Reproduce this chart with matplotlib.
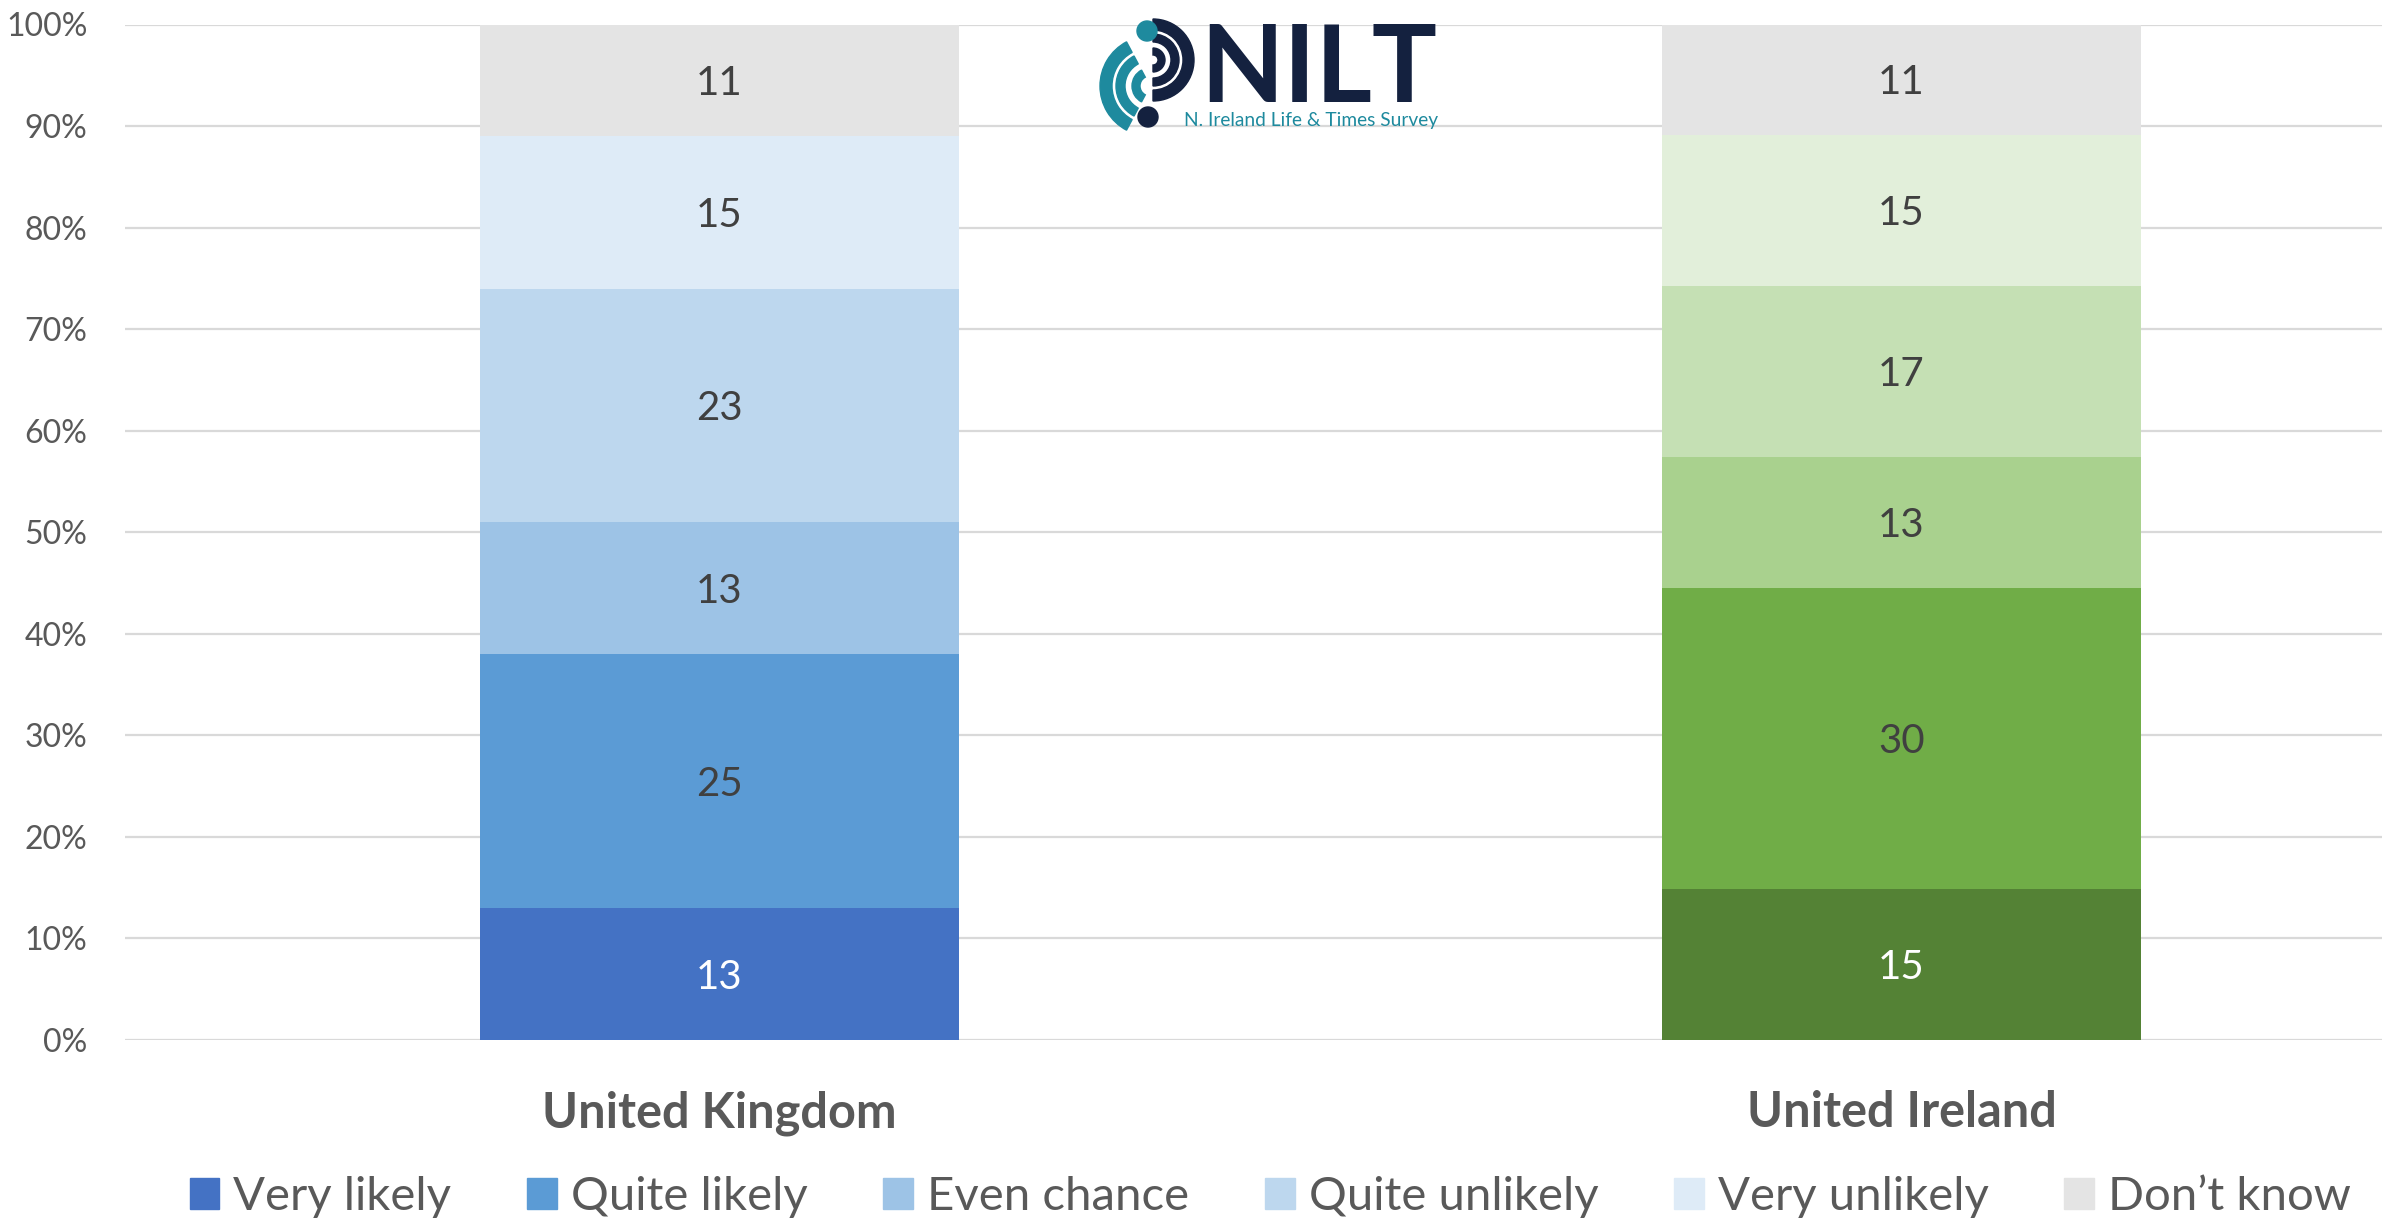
import numpy as np
import matplotlib.pyplot as plt
from matplotlib.patches import Wedge, Circle, Rectangle

plt.rcParams['font.family'] = ['Lato', 'DejaVu Sans']

# DATA
categories = ['United Kingdom', 'United Ireland']
responses = ['Very likely', 'Quite likely', 'Even chance', 'Quite unlikely', 'Very unlikely', 'Don\u2019t know']
uk_values = [13, 25, 13, 23, 15, 11]
ui_values = [15, 30, 13, 17, 15, 11]
uk_colors = ['#4472C4', '#5B9BD5', '#9DC3E6', '#BDD7EE', '#DEEBF7', '#E4E4E4']
ui_colors = ['#548235', '#70AD47', '#A9D18E', '#C5E0B4', '#E2EFDA', '#E4E4E4']
ytick_vals = [0, 10, 20, 30, 40, 50, 60, 70, 80, 90, 100]
ytick_labels = [f'{v}%' for v in ytick_vals]

grey_txt = '#595959'
W, H = 2382, 1224

fig = plt.figure(figsize=(W / 100, H / 100), dpi=100)
ax = fig.add_axes([125 / W, 1 - 1040 / H, 1 - 125 / W, (1040 - 24.5) / H])

bar_w = 0.406
for xi, (vals, cols) in enumerate([(uk_values, uk_colors), (ui_values, ui_colors)]):
    vals = np.array(vals, dtype=float)
    shares = vals / vals.sum() * 100
    bottom = 0
    for k, (v, s, c) in enumerate(zip(vals, shares, cols)):
        ax.bar(xi, s, bottom=bottom, width=bar_w, color=c, zorder=2)
        txt_col = 'white' if k == 0 else '#404040'
        ax.text(xi, bottom + s / 2 - 0.3, f'{int(v)}', ha='center', va='center',
                fontsize=29, color=txt_col, zorder=3)
        bottom += s

ax.set_xlim(-0.503, 1.4065)
ax.set_ylim(0, 100)
ax.set_yticks(ytick_vals)
ax.set_yticklabels(ytick_labels, fontsize=23, color=grey_txt)
ax.set_xticks([0, 1])
ax.set_xticklabels(categories, fontsize=35, fontweight='bold', color=grey_txt)
ax.tick_params(axis='y', length=0, pad=27)
ax.tick_params(axis='x', length=0, pad=36)
ax.grid(axis='y', color='#D9D9D9', linewidth=1.6, zorder=0)
ax.set_axisbelow(True)
for sp in ax.spines.values():
    sp.set_visible(False)

# legend
handles = [Rectangle((0, 0), 1, 1, color=c) for c in uk_colors]
leg = fig.legend(handles, responses, loc='center', bbox_to_anchor=(0.5333, 1 - 1197 / H),
                 ncol=6, frameon=False, fontsize=34, handlelength=0.63, handleheight=0.63,
                 handletextpad=0.3, columnspacing=1.6)
for t in leg.get_texts():
    t.set_color(grey_txt)

# NILT logo
lg = fig.add_axes([0, 0, 1, 1], zorder=5)
lg.set_xlim(0, W)
lg.set_ylim(H, 0)
lg.axis('off')
lg.patch.set_alpha(0)
navy = '#14213F'
teal = '#1E8A9E'
for r, w in [(41, 11), (26, 8), (12, 7)]:
    lg.add_patch(Wedge((1153, 60), r, -90, 90, width=w, color=navy))
for r, w in [(50, 12), (34, 9), (18, 8)]:
    lg.add_patch(Wedge((1150, 86), r, 118, 242, width=w, color=teal))
lg.add_patch(Circle((1147, 31), 10, color=teal))
lg.add_patch(Circle((1148, 117), 10, color=navy))
lg.text(1200, 102, 'NILT', fontsize=78, fontweight='bold', color=navy, ha='left', va='baseline')
lg.text(1184, 126, 'N. Ireland Life & Times Survey', fontsize=13.8, color=teal, ha='left', va='baseline')

fig.savefig('out.png', dpi=100)
